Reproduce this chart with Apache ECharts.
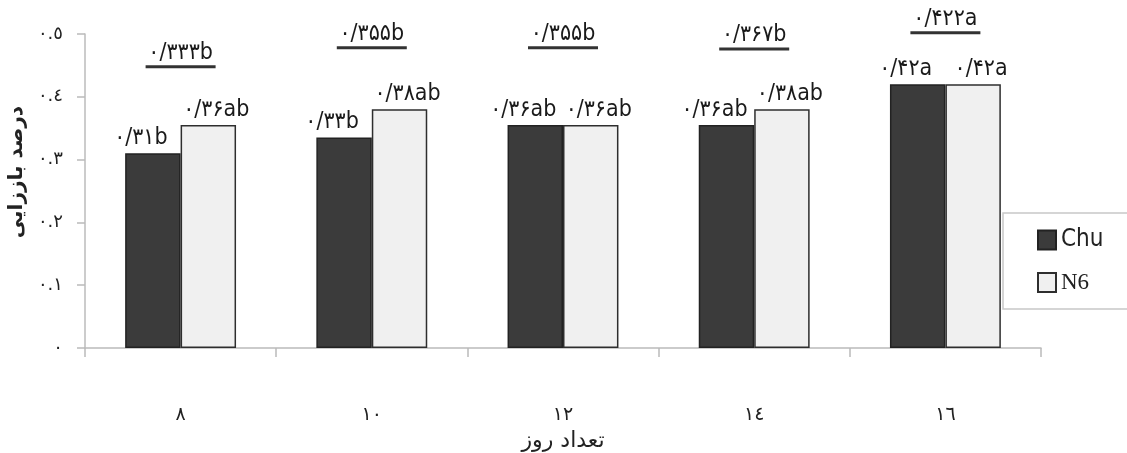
<!DOCTYPE html>
<html>
<head>
<meta charset="utf-8">
<script src="https://cdn.jsdelivr.net/npm/echarts@6/dist/echarts.min.js"></script>
<style>
  html, body { margin: 0; padding: 0; background: #fff; }
  #chart { width: 1127px; height: 453px; }
</style>
</head>
<body>
<div id="chart"></div>
<script>
  // روزها
  var days = ['٨', '١٠', '١٢', '١٤', '١٦']
  var yTicks = ['٠', '٠.١', '٠.٢', '٠.٣', '٠.٤', '٠.٥']

  var chuValues = [0.31, 0.335, 0.355, 0.355, 0.42]
  var n6Values = [0.355, 0.38, 0.355, 0.38, 0.42]
  var chuLabels = ['۰/۳۱b', '۰/۳۳b', '۰/۳۶ab', '۰/۳۶ab', '۰/۴۲a']
  var n6Labels = ['۰/۳۶ab', '۰/۳۸ab', '۰/۳۶ab', '۰/۳۸ab', '۰/۴۲a']

  // میانگین هر روز (خط زیر عدد)
  var meanLabels = ['۰/۳۳۳b', '۰/۳۵۵b', '۰/۳۵۵b', '۰/۳۶۷b', '۰/۴۲۲a']
  var meanLinePos = [0.448, 0.478, 0.478, 0.476, 0.502]

  var labelFont = "'DejaVu Sans Condensed', 'DejaVu Sans', sans-serif"

  var chart = echarts.init(document.getElementById('chart'))
  var option = {
    animation: false,
    grid: {
      left: 85,
      right: 86,
      top: 34,
      bottom: 105,
      containLabel: false,
      outerBoundsMode: 'none'
    },
    legend: {
      orient: 'vertical',
      left: 1003,
      top: 213,
      padding: [15, 90, 15, 34],
      itemGap: 19,
      itemWidth: 18,
      itemHeight: 19,
      borderColor: '#c8c8c8',
      borderWidth: 1.5,
      data: [
        { name: 'Chu', icon: 'rect', textStyle: { fontFamily: "'Liberation Sans Narrow', 'DejaVu Sans Condensed', sans-serif", fontSize: 24, color: '#222' } },
        { name: 'N6', icon: 'rect', textStyle: { fontFamily: "'Liberation Serif', serif", fontSize: 23, color: '#222' } }
      ]
    },
    xAxis: {
      type: 'category',
      data: days,
      name: 'تعداد روز',
      nameLocation: 'middle',
      nameGap: 76,
      nameTextStyle: { fontSize: 22, color: '#222', fontFamily: "'DejaVu Sans', sans-serif" },
      axisLine: { lineStyle: { color: '#bbb', width: 1.5 } },
      axisTick: { show: true, length: 9, lineStyle: { color: '#bbb', width: 1.5 } },
      axisLabel: { margin: 58, fontSize: 19, color: '#222', fontFamily: "'DejaVu Sans', sans-serif" }
    },
    yAxis: {
      type: 'value',
      min: 0,
      max: 0.5,
      interval: 0.1,
      name: 'درصد باززایی',
      nameLocation: 'middle',
      nameGap: 38,
      nameRotate: 90,
      nameTextStyle: { fontSize: 20, fontWeight: 'bold', color: '#222', fontFamily: "'DejaVu Sans', sans-serif", padding: [0, 0, 0, 38] },
      axisLine: { show: true, lineStyle: { color: '#bbb', width: 1.5 } },
      axisTick: { show: true, length: 8, lineStyle: { color: '#bbb', width: 1.5 } },
      splitLine: { show: false },
      axisLabel: {
        margin: 22,
        fontSize: 18,
        color: '#222',
        fontFamily: "'DejaVu Sans', sans-serif",
        formatter: function (v) {
          return yTicks[Math.round(v * 10)]
        }
      }
    },
    series: [
      {
        name: 'Chu',
        type: 'bar',
        data: chuValues,
        barGap: '0%',
        barCategoryGap: '42%',
        itemStyle: { color: '#3b3b3b', borderColor: '#222', borderWidth: 1.5 },
        label: {
          show: true,
          position: 'top',
          distance: 4,
          offset: [-12, 0],
          fontSize: 23,
          color: '#1a1a1a',
          fontFamily: labelFont,
          formatter: function (p) { return chuLabels[p.dataIndex] }
        }
      },
      {
        name: 'N6',
        type: 'bar',
        data: n6Values,
        itemStyle: { color: '#f0f0f0', borderColor: '#2e2e2e', borderWidth: 1.5 },
        label: {
          show: true,
          position: 'top',
          distance: 4,
          offset: [8, 0],
          fontSize: 23,
          color: '#1a1a1a',
          fontFamily: labelFont,
          formatter: function (p) { return n6Labels[p.dataIndex] }
        }
      },
      {
        name: 'mean',
        type: 'scatter',
        data: meanLinePos,
        clip: false,
        symbol: 'rect',
        symbolSize: [70, 3],
        itemStyle: { color: '#333', opacity: 1 },
        label: {
          show: true,
          position: 'top',
          distance: 1,
          fontSize: 23,
          color: '#1a1a1a',
          fontFamily: labelFont,
          formatter: function (p) { return meanLabels[p.dataIndex] }
        },
        z: 5
      }
    ]
  }
  chart.setOption(option)
</script>
</body>
</html>
